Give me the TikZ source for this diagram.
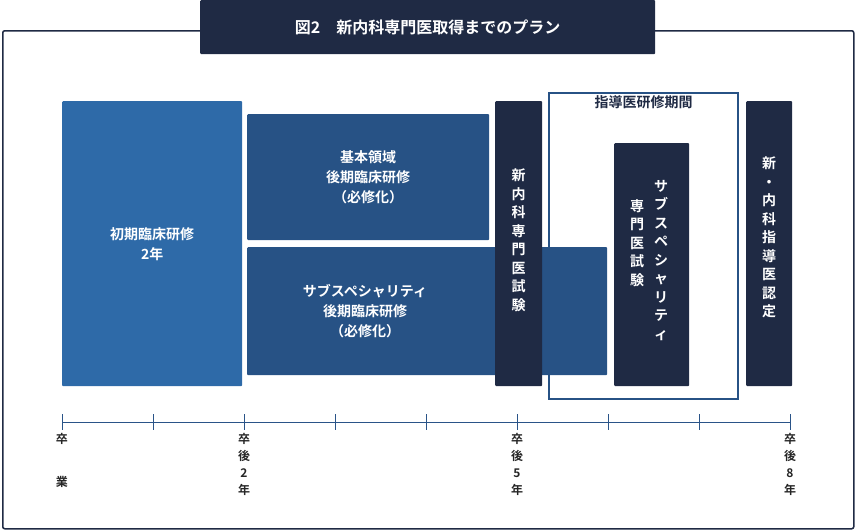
\documentclass[tikz,border=0pt]{standalone}
\usepackage{fontspec}
\setmainfont{Noto Sans CJK JP}[BoldFont={Noto Sans CJK JP Bold}]
\usetikzlibrary{positioning, calc}
\definecolor{navyBg}{RGB}{31, 42, 68}
\definecolor{midBlue}{RGB}{39, 82, 133}
\definecolor{lightBlue}{RGB}{46, 106, 168}
\definecolor{axisBlue}{RGB}{42, 84, 136}
\tikzstyle{block} = [rectangle, rounded corners=1pt, inner sep=0pt, text=white, font=\bfseries\fontsize{14}{20}\selectfont, align=center]
\tikzstyle{vbox} = [block, fill=navyBg, font=\bfseries\fontsize{14}{18.5}\selectfont]
\tikzstyle{tick} = [thick, axisBlue]
\tikzstyle{yearlabel} = [font=\bfseries\fontsize{12}{17}\selectfont, text=black!85, align=center, anchor=north, inner sep=0pt]
\begin{document}
\begin{tikzpicture}[x=1pt, y=-1pt]
\useasboundingbox (0,0) rectangle (855,530);

\node (frame) [draw=navyBg, line width=1.5pt, rounded corners=2pt, minimum width=851pt, minimum height=498pt, anchor=north west] at (2,30) {};
\node (title) [fill=navyBg, rounded corners=1pt, minimum width=455pt, minimum height=54pt, text=white, font=\bfseries\fontsize{16}{20}\selectfont, anchor=north west] at (200,0) {図2\quad 新内科専門医取得までのプラン};

\node (shoki) [block, fill=lightBlue, minimum width=180pt, minimum height=285pt, anchor=north west] at (62,101) {初期臨床研修\\2年};
\node (kihon) [block, fill=midBlue, minimum width=242pt, minimum height=126pt, anchor=north west] at (247,114) {基本領域\\後期臨床研修\\（必修化）};
\node (subsp) [block, fill=midBlue, minimum width=360pt, minimum height=128pt, anchor=north west] at (247,247) {};
\node (subspText) [block] at (365,311) {サブスペシャリティ\\後期臨床研修\\（必修化）};
\node (shikaku) [draw=midBlue, line width=2.2pt, minimum width=189pt, minimum height=306pt, anchor=north west] at (548,92) {};
\node (shidoTitle) [font=\bfseries\fontsize{14}{18}\selectfont, text=navyBg, anchor=north] at (shikaku.north) {指導医研修期間};
\node (shiken) [vbox, minimum width=47pt, minimum height=285pt, anchor=north west] at (495,101) {};
\node (shikenText) [vbox, anchor=north] at ($(shiken.north)+(0,68)$) {新\\内\\科\\専\\門\\医\\試\\験};
\node (subShiken) [vbox, minimum width=75pt, minimum height=243pt, anchor=north west] at (614,143) {};
\node (subShikenR) [vbox, anchor=north] at (661,180) {サ\\ブ\\ス\\ペ\\シ\\ャ\\リ\\テ\\ィ};
\node (subShikenL) [vbox, anchor=north] at (637,199) {専\\門\\医\\試\\験};
\node (nintei) [vbox, minimum width=46pt, minimum height=285pt, anchor=north west] at (746,101) {};
\node (ninteiText) [vbox, anchor=north] at ($(nintei.north)+(0,56)$) {新\\・\\内\\科\\指\\導\\医\\認\\定};

% axis
\coordinate (t0) at (62,422);
\coordinate (t8) at (790,422);
\draw [tick] (t0) -- (t8);
\foreach \i in {0,...,8} {
  \draw [tick] ($(t0)+(91*\i,-8)$) -- ++(0,16);
}
\node (y0) [yearlabel] at (62,433) {卒\\[26pt]業};
\node (y2) [yearlabel] at (244,433) {卒\\後\\2\\年};
\node (y5) [yearlabel] at (517,433) {卒\\後\\5\\年};
\node (y8) [yearlabel] at (790,433) {卒\\後\\8\\年};

\end{tikzpicture}
\end{document}
